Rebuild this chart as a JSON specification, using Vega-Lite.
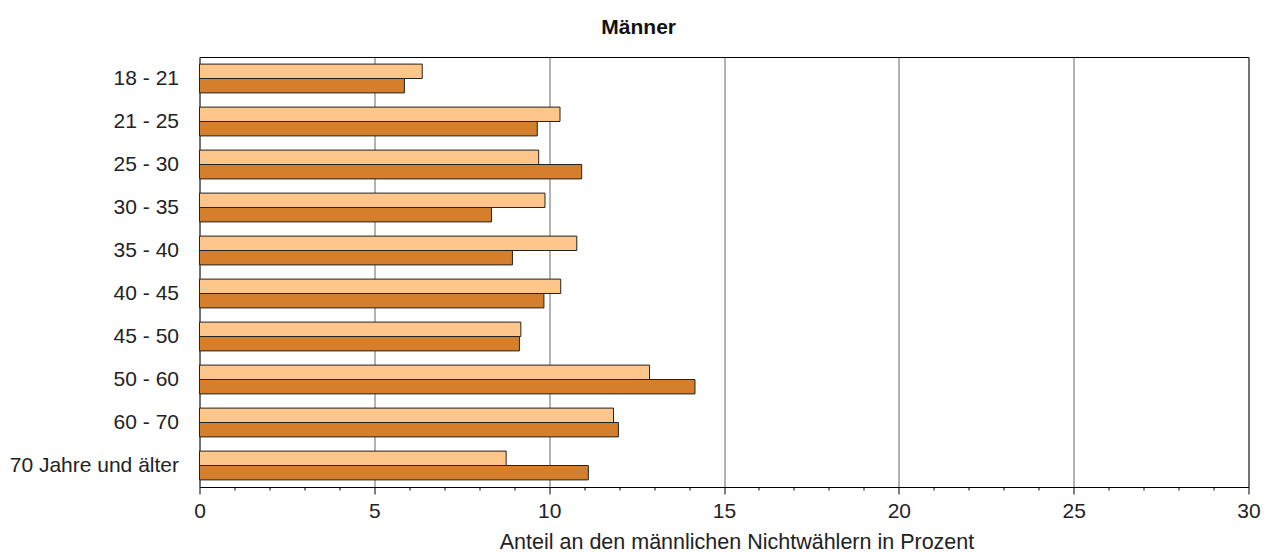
{
  "$schema": "https://vega.github.io/schema/vega-lite/v6.json",
  "width": 1049,
  "height": 430,
  "autosize": "none",
  "padding": {"left": 199.5, "top": 57, "right": 21.5, "bottom": 65},
  "background": "#ffffff",
  "title": {"text": "Männer", "fontSize": 21, "font": "Liberation Sans", "fontWeight": "bold", "color": "#111", "anchor": "middle", "frame": "bounds", "offset": 19, "dx": 4},
  "config": {"view": {"stroke": "#000", "strokeWidth": 1}, "font": "Liberation Sans"},
  "data": {"values": [
    {"age": "18 - 21", "series": "Reihe 1", "value": 6.37},
    {"age": "18 - 21", "series": "Reihe 2", "value": 5.86},
    {"age": "21 - 25", "series": "Reihe 1", "value": 10.31},
    {"age": "21 - 25", "series": "Reihe 2", "value": 9.66},
    {"age": "25 - 30", "series": "Reihe 1", "value": 9.70},
    {"age": "25 - 30", "series": "Reihe 2", "value": 10.93},
    {"age": "30 - 35", "series": "Reihe 1", "value": 9.88},
    {"age": "30 - 35", "series": "Reihe 2", "value": 8.35},
    {"age": "35 - 40", "series": "Reihe 1", "value": 10.79},
    {"age": "35 - 40", "series": "Reihe 2", "value": 8.95},
    {"age": "40 - 45", "series": "Reihe 1", "value": 10.33},
    {"age": "40 - 45", "series": "Reihe 2", "value": 9.85},
    {"age": "45 - 50", "series": "Reihe 1", "value": 9.19},
    {"age": "45 - 50", "series": "Reihe 2", "value": 9.15},
    {"age": "50 - 60", "series": "Reihe 1", "value": 12.87},
    {"age": "50 - 60", "series": "Reihe 2", "value": 14.17},
    {"age": "60 - 70", "series": "Reihe 1", "value": 11.84},
    {"age": "60 - 70", "series": "Reihe 2", "value": 11.98},
    {"age": "70 Jahre und älter", "series": "Reihe 1", "value": 8.77},
    {"age": "70 Jahre und älter", "series": "Reihe 2", "value": 11.12}
  ]},
  "mark": {"type": "bar", "stroke": "#222", "strokeWidth": 1},
  "encoding": {
    "y": {"field": "age", "type": "nominal", "sort": null,
      "scale": {"paddingInner": 0.33, "paddingOuter": 0.165},
      "axis": {"title": null, "ticks": false, "domain": false, "labelFontSize": 21, "labelColor": "#222", "labelPadding": 21}},
    "yOffset": {"field": "series", "type": "nominal", "sort": null, "scale": {"paddingInner": 0, "paddingOuter": 0}},
    "x": {"field": "value", "type": "quantitative",
      "scale": {"domain": [0, 30], "nice": false, "zero": true},
      "axis": {
        "title": "Anteil an den männlichen Nichtwählern in Prozent",
        "titleFontSize": 21.5, "titleFontWeight": "normal", "titleColor": "#222", "titlePadding": 10,
        "titleX": 537, "titleAlign": "center",
        "values": [0,1,2,3,4,5,6,7,8,9,10,11,12,13,14,15,16,17,18,19,20,21,22,23,24,25,26,27,28,29,30],
        "labelExpr": "datum.value % 5 === 0 ? datum.label : ''",
        "labelFlush": false,
        "labelFontSize": 21, "labelColor": "#222", "labelPadding": 6,
        "domainColor": "#000", "tickColor": "#000",
        "tickSize": {"condition": {"test": "datum.value % 5 === 0", "value": 7}, "value": 3},
        "grid": true, "gridColor": "#666",
        "gridOpacity": {"condition": {"test": "datum.value % 5 === 0", "value": 1}, "value": 0}
      }},
    "color": {"field": "series", "type": "nominal", "scale": {"domain": ["Reihe 1", "Reihe 2"], "range": ["#FEC68A", "#D57F2D"]}, "legend": null}
  }
}
